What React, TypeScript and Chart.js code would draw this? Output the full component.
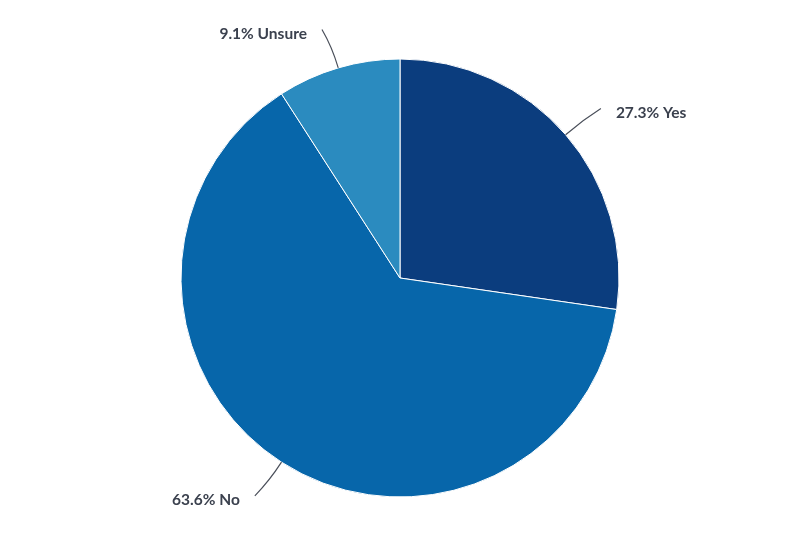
import React, { useEffect, useRef } from "react";
import { Chart, registerables } from "chart.js";

Chart.register(...registerables);

const categories: string[] = ["Yes", "No", "Unsure"];
const values: number[] = [27.3, 63.6, 9.1];
const colors: string[] = ["#0b3d7e", "#0766aa", "#2b8bbf"];

const labelPlugin = {
  id: "leaderLabels",
  afterDatasetsDraw(chart: any) {
    const ctx = chart.ctx as CanvasRenderingContext2D;
    const meta = chart.getDatasetMeta(0);
    ctx.save();
    meta.data.forEach((arc: any, i: number) => {
      const { x, y, startAngle, endAngle, outerRadius } = arc.getProps(
        ["x", "y", "startAngle", "endAngle", "outerRadius"],
        true
      );
      const mid = (startAngle + endAngle) / 2;
      const cos = Math.cos(mid);
      const sin = Math.sin(mid);
      const side = cos >= 0 ? 1 : -1;
      const p0x = x + outerRadius * cos;
      const p0y = y + outerRadius * sin;
      const c1x = x + (outerRadius + 22) * cos;
      const c1y = y + (outerRadius + 22) * sin;
      const ex = x + (outerRadius + 40) * cos + side * 5;
      const ey = y + (outerRadius + 40) * sin;
      ctx.beginPath();
      ctx.moveTo(p0x, p0y);
      ctx.quadraticCurveTo(c1x, c1y, ex, ey);
      ctx.strokeStyle = "#4a4f5a";
      ctx.lineWidth = 1.2;
      ctx.stroke();
      ctx.font = "bold 15.5px Lato";
      ctx.fillStyle = "#3b414e";
      ctx.textBaseline = "middle";
      ctx.textAlign = side > 0 ? "left" : "right";
      const label = values[i].toFixed(1) + "% " + categories[i];
      ctx.fillText(label, ex + side * 15, ey + 4);
    });
    ctx.restore();
  },
};

export default function App() {
  const ref = useRef<HTMLCanvasElement | null>(null);
  useEffect(() => {
    document.body.style.margin = "0";
    const chart = new Chart(ref.current as HTMLCanvasElement, {
      type: "pie",
      data: {
        labels: categories,
        datasets: [
          {
            data: values,
            backgroundColor: colors,
            borderColor: "#ffffff",
            borderWidth: 1,
            radius: 219,
          } as any,
        ],
      },
      options: {
        animation: false,
        responsive: false,
        layout: { padding: { top: 40, bottom: 17, left: 0, right: 0 } },
        plugins: {
          legend: { display: false },
          tooltip: { enabled: false },
        },
      },
      plugins: [labelPlugin],
    });
    return () => chart.destroy();
  }, []);
  return (
    <div style={{ width: 800, height: 533, background: "#fff" }}>
      <canvas ref={ref} width={800} height={533} style={{ display: "block" }} />
    </div>
  );
}
